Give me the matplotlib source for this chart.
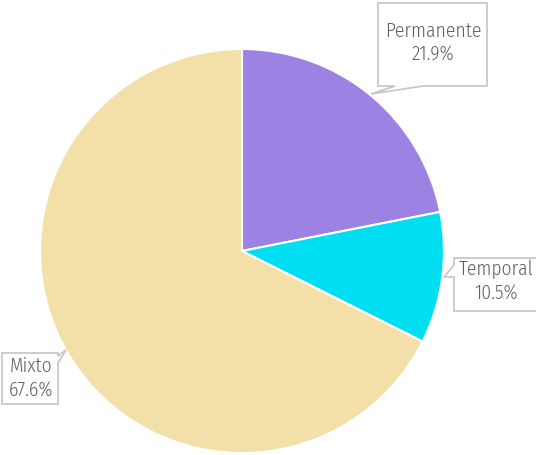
import matplotlib
matplotlib.use("Agg")
import matplotlib.pyplot as plt
from matplotlib.patches import Polygon

labels = ["Permanente", "Temporal", "Mixto"]
values = [21.9, 10.5, 67.6]
colors = ["#9c83e3", "#00dff2", "#f2e0a8"]

plt.rcParams['font.family'] = ['Fira Sans Condensed', 'Roboto', 'DejaVu Sans']

fig = plt.figure(figsize=(5.36, 4.55), dpi=100)
ax = fig.add_axes([0, 0, 1, 1])

# pie centre and radius in pixels
cx, cy, r = 242, 251, 202
def px(x, y):
    return ((x - cx) / r, (cy - y) / r)

ax.pie(values, colors=colors, startangle=90, counterclock=False, radius=1,
       wedgeprops=dict(edgecolor="white", linewidth=1.5))

ax.set_xlim((0 - cx) / r, (536 - cx) / r)
ax.set_ylim((cy - 455) / r, cy / r)
ax.set_aspect("equal")
ax.axis("off")

# callout outlines (pixels) with the notch pointing at the slice
callouts = [
    [(378, 3), (487, 3), (487, 86), (423, 86), (371, 94), (395, 86), (378, 86)],
    [(454, 258), (545, 258), (545, 311), (454, 311), (454, 277), (444, 277), (454, 265)],
    [(2, 353), (58, 353), (58, 356), (66, 350), (58, 363), (58, 404), (2, 404)],
]
text_pos = [(433, 43), (496, 281), (31, 378)]

for lab, v, shape, t in zip(labels, values, callouts, text_pos):
    ax.add_patch(Polygon([px(*p) for p in shape], closed=True, fc="white",
                         ec="#c8c8c8", lw=1.3, clip_on=False, zorder=3))
    ax.text(*px(*t), f"{lab}\n{v:.1f}%", ha="center", va="center",
            fontsize=14, fontweight=300, color="#606060", linespacing=1.25, zorder=4)

fig.savefig("out.png", dpi=100)
